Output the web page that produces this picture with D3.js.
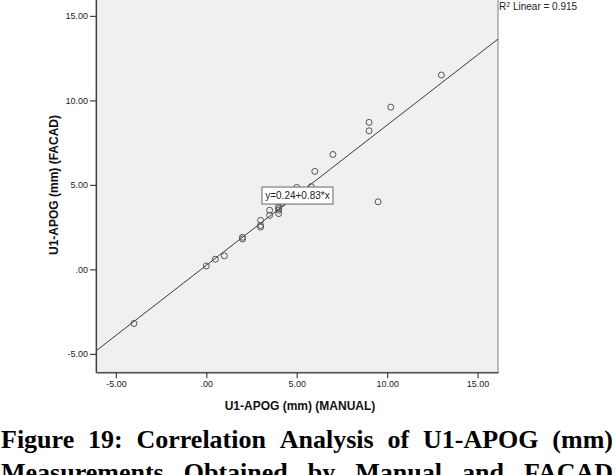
<!DOCTYPE html>
<html>
<head>
<meta charset="utf-8">
<script src="https://cdn.jsdelivr.net/npm/d3@7"></script>
<style>
  html, body { margin: 0; padding: 0; background: #fff; overflow: hidden; }
  svg { display: block; }
</style>
</head>
<body>
<div id="chart"></div>
<script>
// ---- data ----
const manual = [-4, 0, 0.5, 1, 2, 2, 3, 3, 3, 3.5, 3.5, 4, 4, 4, 4, 4.2, 5, 5.8, 6, 7, 9, 9, 9.5, 10.2, 13];
const facad  = [-3.2, 0.2, 0.6, 0.8, 1.9, 1.8, 2.9, 2.6, 2.5, 3.5, 3.2, 3.6, 3.5, 3.3, 3.7, 3.9, 4.85, 4.9, 5.8, 6.8, 8.7, 8.2, 4.0, 9.6, 11.5];
const xTicks = [-5, 0, 5, 10, 15];
const yTicks = [-5, 0, 5, 10, 15];
const fitIntercept = 0.24;
const fitSlope = 0.83;
const fitLabel = "y=0.24+0.83*x";
const r2Text = "0.915";
const xTitle = "U1-APOG (mm) (MANUAL)";
const yTitle = "U1-APOG (mm) (FACAD)";
const captionLines = [
  "Figure 19: Correlation Analysis of U1-APOG (mm)",
  "Measurements Obtained by Manual and FACAD"
];

// ---- layout ----
const W = 616, H = 475;
const plot = { left: 96, right: 498, top: -1, bottom: 372.3 };
const fmt = d => d === 0 ? ".00" : d.toFixed(2);

const svg = d3.select("#chart").append("svg")
  .attr("width", W).attr("height", H)
  .style("font-family", "Arial, 'Liberation Sans', sans-serif");

const x = d3.scaleLinear().domain([-6.1, 16.13]).range([plot.left, plot.right]);
const y = d3.scaleLinear().domain([-6.09, 16.0]).range([plot.bottom, plot.top]);

// plot background
svg.append("rect")
  .attr("x", plot.left).attr("y", plot.top)
  .attr("width", plot.right - plot.left).attr("height", plot.bottom - plot.top)
  .attr("fill", "#f0f0f0")
  .attr("stroke", "#808080").attr("stroke-width", 1);

// clip
svg.append("clipPath").attr("id", "clip").append("rect")
  .attr("x", plot.left).attr("y", plot.top)
  .attr("width", plot.right - plot.left).attr("height", plot.bottom - plot.top);

// axes
const xAxis = svg.append("g")
  .attr("transform", `translate(0,${plot.bottom})`)
  .call(d3.axisBottom(x).tickValues(xTicks).tickFormat(fmt).tickSizeInner(6).tickSizeOuter(0).tickPadding(2));
const yAxis = svg.append("g")
  .attr("transform", `translate(${plot.left},0)`)
  .call(d3.axisLeft(y).tickValues(yTicks).tickFormat(fmt).tickSizeInner(6).tickSizeOuter(0).tickPadding(2));
[xAxis, yAxis].forEach(g => {
  g.select(".domain").attr("stroke", "#404040").attr("stroke-width", 1.2);
  g.selectAll(".tick line").attr("stroke", "#404040").attr("stroke-width", 1.2);
  g.selectAll(".tick text").attr("fill", "#222").style("font-size", "9px")
    .style("font-family", "Arial, 'Liberation Sans', sans-serif");
});

// fit line
const xd = x.domain();
svg.append("line")
  .attr("clip-path", "url(#clip)")
  .attr("x1", x(xd[0])).attr("y1", y(fitIntercept + fitSlope * xd[0]))
  .attr("x2", x(xd[1])).attr("y2", y(fitIntercept + fitSlope * xd[1]))
  .attr("stroke", "#3a3a3a").attr("stroke-width", 1);

// points
svg.append("g").selectAll("circle")
  .data(manual.map((m, i) => [m, facad[i]]))
  .join("circle")
  .attr("cx", d => x(d[0])).attr("cy", d => y(d[1]))
  .attr("r", 3)
  .attr("fill", "none")
  .attr("stroke", "#555")
  .attr("stroke-width", 1);

// fit label box
const lblX = x(5.04), lblY = y(4.37);
const lbl = svg.append("g").attr("transform", `translate(${lblX},${lblY})`);
lbl.append("rect")
  .attr("x", -35.5).attr("y", -8.5)
  .attr("width", 71).attr("height", 17)
  .attr("fill", "#fff").attr("stroke", "#666").attr("stroke-width", 1);
lbl.append("text")
  .attr("text-anchor", "middle").attr("dy", "0.35em")
  .style("font-size", "10px").attr("fill", "#222")
  .text(fitLabel);

// R² label
const r2 = svg.append("text")
  .attr("x", plot.right + 1).attr("y", 10)
  .style("font-size", "10px").attr("fill", "#222");
r2.append("tspan").text("R");
r2.append("tspan").attr("dy", -3).style("font-size", "7px").text("2");
r2.append("tspan").attr("dy", 3).text(" Linear = " + r2Text);

// axis titles
svg.append("text")
  .attr("x", (plot.left + plot.right) / 2 + 3).attr("y", 410)
  .attr("text-anchor", "middle")
  .style("font-size", "12px").style("font-weight", "bold").attr("fill", "#111")
  .text(xTitle);
svg.append("text")
  .attr("transform", `translate(57.5,185) rotate(-90)`)
  .attr("text-anchor", "middle")
  .style("font-size", "12px").style("font-weight", "bold").attr("fill", "#111")
  .text(yTitle);

// caption, justified across width (second line is cut by the page edge, as in the reference)
const capBase = [448, 481];
captionLines.forEach((line, li) => {
  const words = line.split(" ");
  const t = svg.append("text")
    .attr("y", capBase[li])
    .style("font-family", "'Liberation Serif', 'Times New Roman', serif")
    .style("font-size", "26px").style("font-weight", "bold").attr("fill", "#000");
  const spans = words.map(w => t.append("tspan").text(w));
  const widths = spans.map(s => s.node().getComputedTextLength());
  const total = d3.sum(widths);
  const left = 1, right = 613;
  const gap = (right - left - total) / (words.length - 1);
  let cx = left;
  spans.forEach((s, i) => { s.attr("x", cx); cx += widths[i] + gap; });
});
</script>
</body>
</html>
